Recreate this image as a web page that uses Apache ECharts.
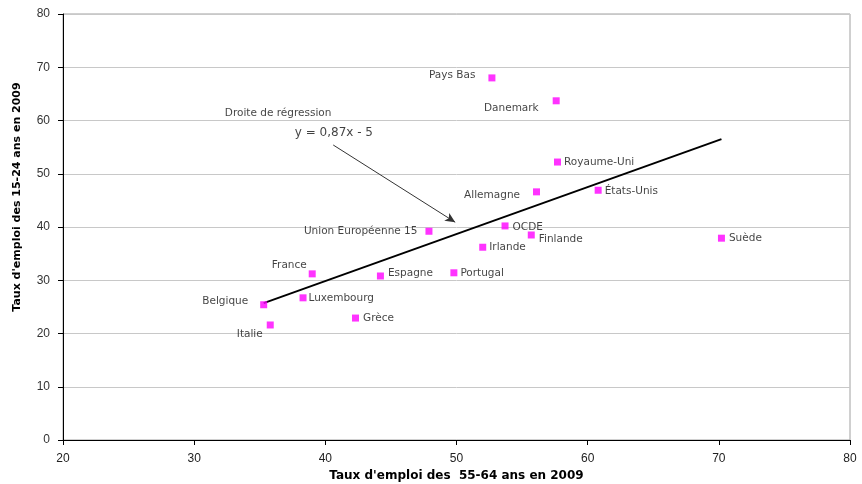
<!DOCTYPE html>
<html><head><meta charset="utf-8">
<script src="https://cdn.jsdelivr.net/npm/echarts@6/dist/echarts.min.js"></script>
<style>html,body{margin:0;padding:0;background:#fff}#c{width:862px;height:484px}</style>
</head><body><div id="c"></div>
<script>
const countries = ["Pays Bas","Danemark","Royaume-Uni","Allemagne","États-Unis","Union Européenne 15","OCDE","Finlande","Irlande","France","Espagne","Portugal","Belgique","Luxembourg","Grèce","Italie","Suède"];
const emploi5564 = [52.7,57.6,57.7,56.1,60.8,47.9,53.7,55.7,52.0,39.0,44.2,49.8,35.3,38.3,42.3,35.8,70.2];
const emploi1524 = [68.0,63.7,52.2,46.6,46.9,39.2,40.2,38.5,36.2,31.2,30.8,31.4,25.4,26.7,22.9,21.6,37.9];
const regressionX = [35.3,70.2];
const regressionY = [25.7,56.5];
const arrowX = [40.6,49.9];
const arrowY = [55.4,40.9];
const annotations = ["Droite de régression","y = 0,87x - 5"];
const annotationX = [36.4,40.65];
const annotationY = [61.4,57.65];
const xTicks = [20,30,40,50,60,70,80];
const yTicks = [0,10,20,30,40,50,60,70,80];

// label placement (style only)
const labelStyle = {
 "Pays Bas":["left",13,-3],"Danemark":["left",14,7],"Royaume-Uni":["right",3,0],
 "Allemagne":["left",13,3],"États-Unis":["right",3,1],"Union Européenne 15":["left",8,0],
 "OCDE":["right",4,1],"Finlande":["right",4,4],"Irlande":["right",3,0],
 "France":["left",2,-9],"Espagne":["right",4,-3],"Portugal":["right",3,0],
 "Belgique":["left",12,-3],"Luxembourg":["right",2,0],"Grèce":["right",4,0],
 "Italie":["left",4,9],"Suède":["right",4,0]
};
const font = "DejaVu Sans";
const pts = countries.map((n,i)=>{
  const s = labelStyle[n];
  return {name:n,value:[emploi5564[i],emploi1524[i]],
    label:{show:true,formatter:n,position:s[0],distance:s[1],offset:[0,s[2]],
      color:'#111',fontFamily:font,fontSize:10.5}};
});
const chart = echarts.init(document.getElementById('c'),null,{renderer:'canvas'});
chart.setOption({
  animation:false,
  grid:{left:63,right:12,top:14,bottom:44,containLabel:false,outerBoundsMode:'none',
    show:true,borderColor:'#a0a0a0',borderWidth:1},
  xAxis:{type:'value',min:xTicks[0],max:xTicks[xTicks.length-1],interval:10,
    name:'Taux d\'emploi des  55-64 ans en 2009',nameLocation:'middle',nameGap:30,
    nameTextStyle:{fontFamily:'DejaVu Sans',fontWeight:'bold',fontSize:12,color:'#000'},
    axisLine:{lineStyle:{color:'#000',width:1}},axisTick:{show:true,length:5,lineStyle:{color:'#000'}},
    axisLabel:{fontFamily:'Liberation Sans',fontSize:12,color:'#222',margin:13},
    splitLine:{show:false}},
  yAxis:{type:'value',min:yTicks[0],max:yTicks[yTicks.length-1],interval:10,
    name:'Taux d\'emploi des 15-24 ans en 2009',nameLocation:'middle',nameGap:40,
    nameTextStyle:{fontFamily:'DejaVu Sans',fontWeight:'bold',fontSize:11,color:'#000',padding:[0,0,0,60]},
    axisLine:{show:true,lineStyle:{color:'#000',width:1}},axisTick:{show:true,length:5,lineStyle:{color:'#000'}},
    axisLabel:{fontFamily:'Liberation Sans',fontSize:12,color:'#333',margin:13},
    splitLine:{show:true,lineStyle:{color:'#c8c8c8',width:1}}},
  series:[
    {type:'line',data:regressionX.map((x,i)=>[x,regressionY[i]]),symbol:'none',
      lineStyle:{color:'#000',width:2},z:3,silent:true,
      markLine:{silent:true,symbol:['none','arrow'],symbolSize:[7,10],animation:false,
        label:{show:false},lineStyle:{color:'#333',width:1,type:'solid'},
        data:[[{coord:[arrowX[0],arrowY[0]]},{coord:[arrowX[1],arrowY[1]]}]]}},
    {type:'scatter',data:pts,symbol:'rect',symbolSize:7,itemStyle:{color:'#ff00ff'},z:5},
    {type:'scatter',data:annotations.map((t,i)=>({value:[annotationX[i],annotationY[i]],
      label:{show:true,formatter:t,position:'inside',color:'#111',fontFamily:font,fontSize:i===1?12:10.5}})),
      symbolSize:0,z:6}
  ]
});
</script></body></html>
